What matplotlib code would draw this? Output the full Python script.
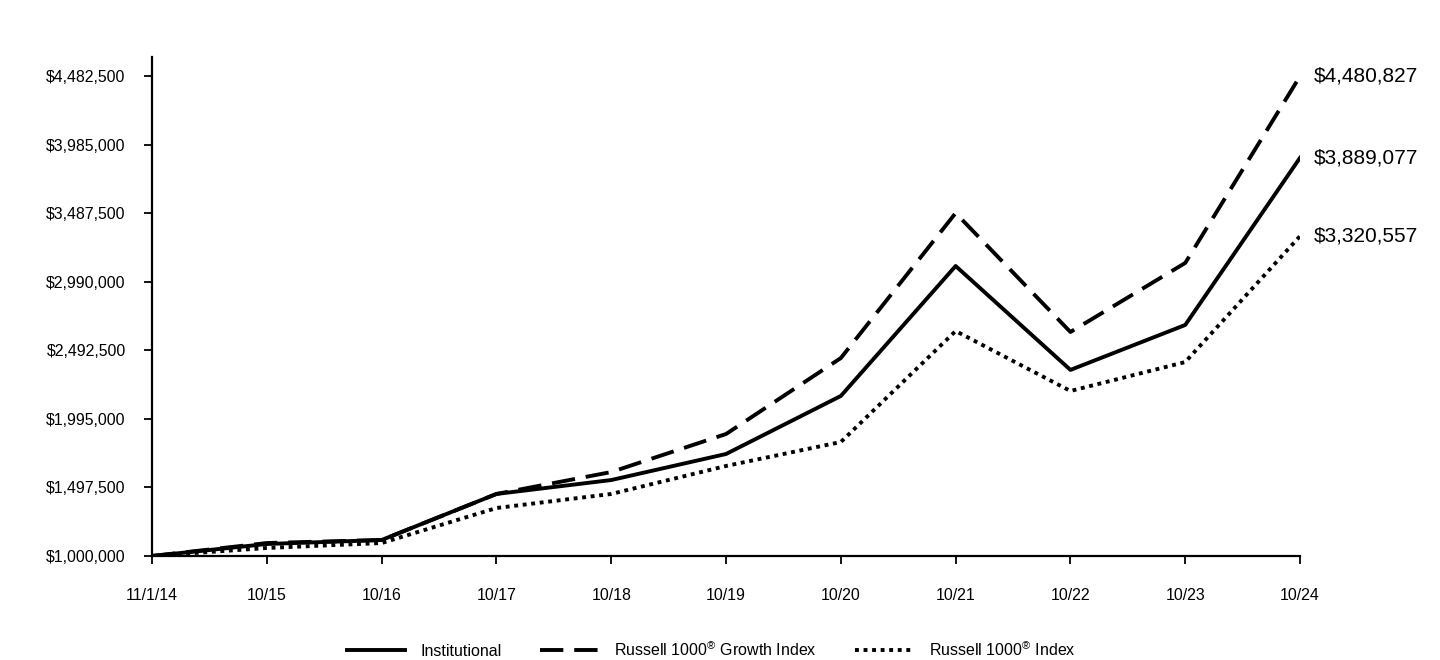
import matplotlib.pyplot as plt
from matplotlib.ticker import FuncFormatter

plt.rcParams['font.family'] = ['Liberation Sans', 'DejaVu Sans']
plt.rcParams['mathtext.fontset'] = 'custom'
plt.rcParams['mathtext.rm'] = 'Liberation Sans'

dates = ['11/1/14', '10/15', '10/16', '10/17', '10/18', '10/19',
         '10/20', '10/21', '10/22', '10/23', '10/24']
institutional = [1000000, 1087000, 1116000, 1450000, 1551000, 1740000,
                 2161000, 3104000, 2350000, 2676000, 3889077]
growth_index = [1000000, 1094000, 1116000, 1450000, 1609000, 1885000,
                2436000, 3488000, 2625000, 3126000, 4480827]
r1000_index = [1000000, 1058000, 1094000, 1348000, 1450000, 1653000,
               1827000, 2632000, 2197000, 2407000, 3320557]
y_ticks = [1000000, 1497500, 1995000, 2492500, 2990000, 3487500, 3985000, 4482500]
labels = ['Institutional', 'Russell 1000$^{®}$ Growth Index', 'Russell 1000$^{®}$ Index']

fig = plt.figure(figsize=(14.4, 6.6), dpi=100)
ax = fig.add_axes([0.1056, 0.1576, 0.7972, 0.756])

x = list(range(len(dates)))
l1, = ax.plot(x, institutional, color='black', lw=2.8)
l2, = ax.plot(x, growth_index, color='black', lw=2.8, dashes=(6, 2.8))
l3, = ax.plot(x, r1000_index, color='black', lw=2.8, dashes=(1, 1.2))

for vals in [growth_index, institutional, r1000_index]:
    ax.annotate(f'${vals[-1]:,}', (x[-1], vals[-1]), xytext=(10, 0),
                textcoords='offset points', va='center', ha='left', fontsize=15)

ax.set_xlim(0, 10)
ax.set_ylim(1000000, 4620000)
ax.set_xticks(x)
ax.set_xticklabels(dates)
ax.set_yticks(y_ticks)
ax.yaxis.set_major_formatter(FuncFormatter(lambda v, p: f'${v:,.0f}'))

for s in ['top', 'right']:
    ax.spines[s].set_visible(False)
for s in ['left', 'bottom']:
    ax.spines[s].set_linewidth(1.6)
ax.tick_params(axis='both', length=6, width=1.3, labelsize=11.4)
ax.tick_params(axis='x', pad=17)
ax.tick_params(axis='y', pad=13)

fig.legend([l1, l2, l3], labels, loc='lower center', bbox_to_anchor=(0.494, -0.02),
           ncol=3, frameon=False, fontsize=11.5, handlelength=3.6,
           columnspacing=2.4, handletextpad=1.0)

fig.savefig('out.png', dpi=100)
